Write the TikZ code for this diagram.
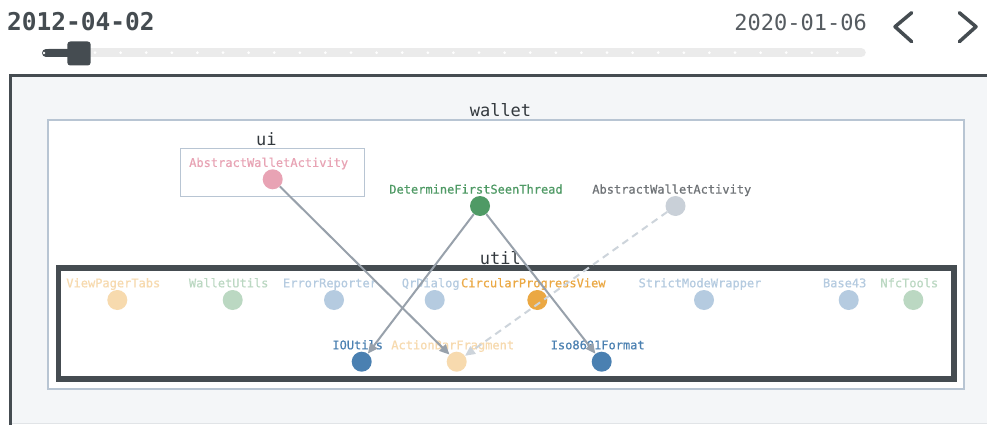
\documentclass[tikz,border=0pt]{standalone}
\usepackage{fontspec}
\newfontfamily\codefont{DejaVu Sans Mono}[FakeBold=0.5]
\newfontfamily\headfont{DejaVu Sans Mono}
\usetikzlibrary{arrows.meta}

\definecolor{ink}{HTML}{454C51}
\definecolor{inksoft}{HTML}{555B60}
\definecolor{panel}{HTML}{F4F6F8}
\definecolor{panelline}{HTML}{E1E4E7}
\definecolor{boxline}{HTML}{B8C5D3}
\definecolor{track}{HTML}{EBEBEB}
\definecolor{edgec}{HTML}{98A1AB}
\definecolor{edgelight}{HTML}{CDD4DB}
\definecolor{title}{HTML}{33393E}
\definecolor{pink}{HTML}{E8A3B4}
\definecolor{green}{HTML}{4F9A65}
\definecolor{grayd}{HTML}{C9D0D8}
\definecolor{graytext}{HTML}{6E7276}
\definecolor{peach}{HTML}{F7DAAE}
\definecolor{mint}{HTML}{BBD8C2}
\definecolor{sky}{HTML}{B5CBE0}
\definecolor{orange}{HTML}{EBA843}
\definecolor{navy}{HTML}{4A80B1}

\tikzset{
  dot/.style={circle, minimum size=20pt, inner sep=0pt, draw=none},
  lbl/.style={anchor=base, inner sep=0pt, font=\codefont\fontsize{12}{14}\selectfont},
  grouptitle/.style={anchor=base, inner sep=0pt, font=\headfont\fontsize{17}{20}\selectfont, text=title},
  groupbox/.style={draw=boxline, line width=1.5pt, inner sep=0pt},
  edge/.style={draw=edgec, line width=2pt, -{Triangle[length=10pt,width=9pt]}},
  softedge/.style={draw=edgelight, line width=2pt, dash pattern=on 7pt off 5pt, -{Triangle[length=10pt,width=9pt]}},
  chev/.style={draw=ink, line width=3.5pt, line cap=round, line join=round},
}

\begin{document}
\begin{tikzpicture}[x=1pt, y=-1pt]
\useasboundingbox (0,0) rectangle (987,425);
\fill[white] (0,0) rectangle (987,425);

% ---- header: dates, slider, arrows ----
\node[anchor=west, inner sep=0pt, font=\headfont\bfseries\fontsize{24.5}{28}\selectfont, text=ink] (datefrom) at (7,22) {2012-04-02};
\node[anchor=east, inner sep=0pt, font=\headfont\fontsize{22}{26}\selectfont, text=inksoft] (dateto) at (867,22) {2020-01-06};

\draw[chev] (911.7,12.7) -- (895,26.7) -- (911.7,41.7);
\draw[chev] (959.3,12.7) -- (976,26.7) -- (959.3,41.7);

\draw[track, line width=9.5pt, line cap=round] (50,52.7) -- (861,52.7);
\foreach \k in {0,...,29} \fill[white] (95+25.6*\k,52.7) circle (1.5pt);
\draw[ink, line width=8pt, line cap=round] (46,53) -- (70,53);
\fill[white] (44,53) circle (1.3pt);
\fill[ink, rounded corners=3pt] (67.3,41.5) rectangle (90.7,65.5);

% ---- panel ----
\fill[panel] (10,75.5) rectangle (990,423.5);
\draw[panelline, line width=1pt] (12,423.5) -- (990,423.5);
\draw[ink, line width=3.5pt] (10.25,430) -- (10.25,75.5) -- (990,75.5);

% ---- packages ----
\node[groupbox, fill=white, minimum width=916pt, minimum height=269pt] (walletbox) at (506,254.5) {};
\node[grouptitle] (wallettitle) at (500.5,117) {wallet};

\node[groupbox, minimum width=184pt, minimum height=48.4pt] (uibox) at (272.3,172.5) {};
\node[grouptitle] (uititle) at (266.3,145.3) {ui};

\node[draw=ink, line width=5.5pt, inner sep=0pt, minimum width=895.7pt, minimum height=111pt] (utilbox) at (506.2,323.5) {};
\node[grouptitle] (utiltitle) at (500.3,264) {util};

% ---- classes ----
\node[dot, fill=pink]   (awa)  at (272.7,179.3) {};
\node[dot, fill=green]  (dfst) at (480,206) {};
\node[dot, fill=grayd]  (awb)  at (675.5,206) {};

\node[dot, fill=peach]  (vpt)  at (117.3,300) {};
\node[dot, fill=mint]   (wu)   at (232.7,300) {};
\node[dot, fill=sky]    (er)   at (334,300) {};
\node[dot, fill=sky]    (qr)   at (434.7,300) {};
\node[dot, fill=orange] (cpv)  at (537.3,300) {};
\node[dot, fill=sky]    (smw)  at (704,300) {};
\node[dot, fill=sky]    (b43)  at (848.7,300) {};
\node[dot, fill=mint]   (nfc)  at (913.3,300) {};

\node[dot, fill=navy]   (iou)  at (361.7,361.7) {};
\node[dot, fill=peach]  (abf)  at (456.7,361.7) {};
\node[dot, fill=navy]   (iso)  at (601.7,361.7) {};

% ---- class names ----
\node[lbl, text=pink]     (awaT)  at ([shift={(-4,-12.4)}]awa.center)  {AbstractWalletActivity};
\node[lbl, text=green]    (dfstT) at ([shift={(-4,-12.4)}]dfst.center) {DetermineFirstSeenThread};
\node[lbl, text=graytext] (awbT)  at ([shift={(-3.7,-12.4)}]awb.center) {AbstractWalletActivity};

\node[lbl, text=peach]  (vptT) at ([shift={(-4,-12.7)}]vpt.center) {ViewPagerTabs};
\node[lbl, text=mint]   (wuT)  at ([shift={(-4,-12.7)}]wu.center)  {WalletUtils};
\node[lbl, text=sky]    (erT)  at ([shift={(-4,-12.7)}]er.center)  {ErrorReporter};
\node[lbl, text=sky]    (qrT)  at ([shift={(-4,-12.7)}]qr.center)  {QrDialog};
\node[lbl, text=orange] (cpvT) at ([shift={(-4,-12.7)}]cpv.center) {CircularProgressView};
\node[lbl, text=sky]    (smwT) at ([shift={(-4,-12.7)}]smw.center) {StrictModeWrapper};
\node[lbl, text=sky]    (b43T) at ([shift={(-4,-12.7)}]b43.center) {Base43};
\node[lbl, text=mint]   (nfcT) at ([shift={(-4,-12.7)}]nfc.center) {NfcTools};

\node[lbl, text=navy]   (iouT) at ([shift={(-4,-12.4)}]iou.center) {IOUtils};
\node[lbl, text=peach]  (abfT) at ([shift={(-4,-12.4)}]abf.center) {ActionBarFragment};
\node[lbl, text=navy]   (isoT) at ([shift={(-4,-12.4)}]iso.center) {Iso8601Format};

% ---- dependencies ----
\draw[softedge] (awb) -- (abf);
\draw[edge] (awa) -- (abf);
\draw[edge] (dfst) -- (iou);
\draw[edge] (dfst) -- (iso);
\end{tikzpicture}
\end{document}
